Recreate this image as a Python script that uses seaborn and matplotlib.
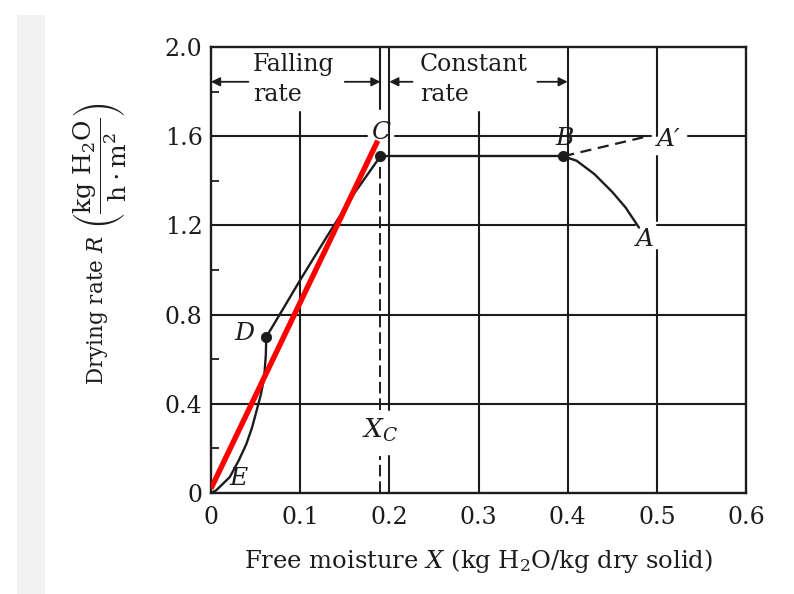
import matplotlib
matplotlib.use("Agg")
import matplotlib.pyplot as plt
import seaborn as sns
from matplotlib.patches import Rectangle

# ---- drying-rate curve data (X: kg H2O/kg dry solid, R: kg H2O/h·m²) ----
warmup_x = [0.395, 0.41, 0.43, 0.45, 0.465, 0.48]
warmup_r = [1.51, 1.49, 1.43, 1.35, 1.28, 1.19]
hot_start_x = [0.395, 0.49]
hot_start_r = [1.51, 1.60]
constant_x = [0.19, 0.395]
constant_r = [1.51, 1.51]
falling1_x = [0.19, 0.16, 0.13, 0.10, 0.08, 0.062]
falling1_r = [1.51, 1.34, 1.15, 0.955, 0.82, 0.70]
falling2_x = [0.062, 0.0615, 0.0596, 0.0558, 0.051, 0.046, 0.0396, 0.031, 0.021, 0.0058, 0.0]
falling2_r = [0.70, 0.62, 0.515, 0.44, 0.367, 0.293, 0.219, 0.145, 0.071, 0.012, 0.0]
fit_x = [0.0, 0.187]
fit_r = [0.02, 1.58]
point_names = ["C", "B", "D"]
point_x = [0.19, 0.395, 0.062]
point_r = [1.51, 1.51, 0.70]
x_critical = 0.19

x_ticks = [0.0, 0.1, 0.2, 0.3, 0.4, 0.5, 0.6]
x_tick_labels = ["0", "0.1", "0.2", "0.3", "0.4", "0.5", "0.6"]
y_ticks = [0.0, 0.4, 0.8, 1.2, 1.6, 2.0]
y_tick_labels = ["0", "0.4", "0.8", "1.2", "1.6", "2.0"]
y_minor = [0.2, 0.6, 1.0, 1.4, 1.8]

sns.set_theme(style="white")
plt.rcParams["font.family"] = ["DejaVu Serif"]
plt.rcParams["mathtext.fontset"] = "dejavuserif"

INK = "#1c1c1c"
fig = plt.figure(figsize=(7.94, 5.94), dpi=100)
fig.patch.set_facecolor("white")
fig.patches.append(Rectangle((17 / 794, 0), 28 / 794, 0.975, transform=fig.transFigure,
                             facecolor="#f2f2f2", edgecolor="none", zorder=0))
ax = fig.add_axes([211 / 794, 101 / 594, 535 / 794, 446 / 594])
ax.set_facecolor("white")
ax.set_xlim(0, 0.6)
ax.set_ylim(0, 2.0)

# ---- grid with breaks around the labels ----
glw = 1.5
grid_v = [
    (0.1, [(0, 1.71)]),
    (0.2, [(0, 0.165), (0.37, 2.0)]),
    (0.3, [(0, 1.71)]),
    (0.4, [(0, 2.0)]),
    (0.5, [(0, 1.09), (1.22, 1.51), (1.6, 2.0)]),
]
for xv, segs in grid_v:
    for lo, hi in segs:
        ax.plot([xv, xv], [lo, hi], color=INK, lw=glw, zorder=1)
grid_h = [
    (0.4, [(0, 0.6)]),
    (0.8, [(0, 0.6)]),
    (1.2, [(0, 0.475), (0.5, 0.6)]),
    (1.6, [(0, 0.175), (0.206, 0.494), (0.535, 0.6)]),
]
for yv, segs in grid_h:
    for lo, hi in segs:
        ax.plot([lo, hi], [yv, yv], color=INK, lw=glw, zorder=1)

# critical moisture marker: solid bracket on top, dashed below C
ax.plot([x_critical, x_critical], [1.72, 2.0], color=INK, lw=glw, zorder=1)
for lo, hi in [(0, 0.165), (0.37, 1.49)]:
    ax.plot([x_critical, x_critical], [lo, hi], color=INK, lw=1.4,
            dashes=(6, 2.5), zorder=1)

# ---- curve segments ----
kw = dict(color=INK, lw=1.7, sort=False, estimator=None, legend=False, ax=ax, zorder=3)
sns.lineplot(x=warmup_x, y=warmup_r, **kw)
sns.lineplot(x=constant_x, y=constant_r, **kw)
sns.lineplot(x=falling1_x, y=falling1_r, **kw)
sns.lineplot(x=falling2_x, y=falling2_r, **kw)
sns.lineplot(x=hot_start_x, y=hot_start_r, color=INK, lw=1.6, sort=False,
             estimator=None, legend=False, ax=ax, zorder=3, dashes=False,
             linestyle=(0, (5, 3)))
sns.scatterplot(x=point_x, y=point_r, color=INK, s=55, edgecolor=INK, ax=ax, zorder=4)

# straight red line through the falling-rate period
sns.lineplot(x=fit_x, y=fit_r, color="#ff0000", lw=3.9, sort=False,
             estimator=None, legend=False, ax=ax, zorder=5)
ax.lines[-1].set_solid_capstyle("butt")

# ---- point labels ----
lab = dict(fontsize=18, style="italic", color=INK, ha="center", va="center", zorder=6)
ax.text(0.19, 1.615, "C", **lab)
ax.text(0.397, 1.59, "B", **lab)
ax.text(0.513, 1.585, "A\u2032", **lab)
ax.text(0.487, 1.135, "A", **lab)
ax.text(0.037, 0.715, "D", **lab)
ax.text(0.031, 0.065, "E", **lab)
ax.text(0.19, 0.28, r"$X_C$", fontsize=19, color=INK, ha="center", va="center", zorder=6)

# ---- period brackets ----
txt = dict(fontsize=17, color=INK, ha="left", va="center")
ax.text(0.047, 1.92, "Falling", **txt)
ax.text(0.047, 1.785, "rate", **txt)
ax.text(0.234, 1.92, "Constant", **txt)
ax.text(0.234, 1.785, "rate", **txt)
arrow = dict(arrowstyle="-|>", color=INK, lw=1.3, mutation_scale=13, shrinkA=0, shrinkB=0)
y_arr = 1.844
ax.annotate("", xy=(0.0, y_arr), xytext=(0.042, y_arr), arrowprops=arrow)
ax.annotate("", xy=(x_critical, y_arr), xytext=(0.15, y_arr), arrowprops=arrow)
ax.annotate("", xy=(0.2, y_arr), xytext=(0.226, y_arr), arrowprops=arrow)
ax.annotate("", xy=(0.4, y_arr), xytext=(0.366, y_arr), arrowprops=arrow)

# ---- axes ----
ax.set_xticks(x_ticks, x_tick_labels)
ax.set_yticks(y_ticks, y_tick_labels)
ax.set_yticks(y_minor, minor=True)
ax.tick_params(axis="both", which="major", length=0, labelsize=17, colors=INK)
ax.tick_params(axis="x", which="major", pad=9)
ax.tick_params(axis="y", which="major", pad=6)
ax.tick_params(axis="y", which="minor", direction="in", length=6, width=1.3,
               color=INK, left=True)
for sp in ax.spines.values():
    sp.set_color(INK)
    sp.set_linewidth(1.7)
    sp.set_visible(True)

ax.set_xlabel(r"Free moisture $X$ (kg H$_2$O/kg dry solid)", fontsize=17.5,
              color=INK, labelpad=13)
fig.text(97 / 794, 1 - 310 / 594, r"Drying rate $R$",
         rotation=90, fontsize=15.5, color=INK, ha="center", va="center")
fig.text(100 / 794, 1 - 166 / 594,
         r"$\left(\dfrac{\mathrm{kg\ H_2O}}{\mathrm{h\cdot m^2}}\right)$",
         rotation=90, fontsize=18, color=INK, ha="center", va="center")

fig.savefig("out.png", dpi=100)
